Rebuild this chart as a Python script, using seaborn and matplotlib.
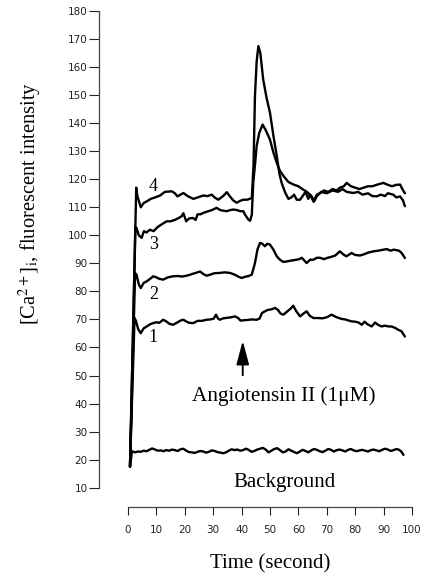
import matplotlib
matplotlib.use("Agg")
import matplotlib.pyplot as plt
import seaborn as sns
import pandas as pd

# ---------------- data ----------------
t4 = [0.7, 2.9, 3.3, 4.5, 5.5, 6.6, 8, 9.5, 11.3, 13, 15.4, 16.5, 17.4, 18.5, 19.5, 21, 23, 24.5,
      26.5, 28, 29.5, 30.5, 31.8, 33.5, 34.8, 35.8, 37, 38.3, 39.5, 40.6, 42, 43.6, 44.2, 44.7, 45.3,
      45.9, 46.6, 47.6, 48.8, 50, 51.2, 52.4, 53.3, 54.1, 55.4, 56.5, 57.5, 58.5, 59.4, 60.6, 61.5,
      62.5, 63.5, 64.1, 65.3, 66.5, 67.6, 69, 70.5, 72, 73.5, 74.6, 76, 77, 78.5, 80, 81.5, 83, 84.5,
      86, 87.5, 89.9, 91.5, 93, 94.4, 95.8, 96.6, 97.5]
y4 = [17.5, 117, 114, 110, 111.5, 112.1, 113, 113.5, 114.2, 115.5, 115.7, 115, 113.9, 114.5, 115.1,
      114, 113, 113.5, 114.2, 114, 114.5, 113.5, 112.7, 114, 115.4, 114, 112.5, 111.6, 112.3, 112.7,
      112.7, 113.3, 125, 149.6, 162, 167.5, 165, 155.6, 149, 143.7, 135.5, 128.2, 122, 118.7, 115.1,
      113, 113.5, 114.5, 112.7, 112.7, 114, 115.5, 113, 114.5, 112.1, 114.5, 115, 116, 115.5, 116.5,
      116, 117, 117.5, 118.7, 117.5, 117, 116.5, 117, 117.5, 117.5, 118, 118.7, 118, 117.5, 118,
      118.1, 116.5, 115]

t3 = [0.7, 2.6, 3.0, 3.8, 4.8, 5.6, 6.5, 7.7, 9, 10.5, 12, 13.6, 15, 16.5, 17.5, 18.9, 19.5, 20.5,
      21.5, 22.8, 23.8, 24.5, 25.5, 26.5, 28, 29.5, 31.2, 32.5, 33.5, 34.7, 36, 37, 38.5, 39.4, 40.6,
      41.2, 42.4, 43.0, 43.6, 44.1, 44.7, 45.3, 46.2, 47.4, 48.5, 50, 51.2, 52.4, 53.5, 54.8, 56.5,
      58.3, 60, 61.7, 63, 64.7, 65.5, 66.5, 68, 70, 72, 74, 75.5, 77, 79.3, 81, 82.6, 84.5, 86, 87.6,
      89, 90.5, 91.5, 93.4, 94.5, 95.8, 96.8, 97.5]
y3 = [17.5, 103, 102.6, 100, 99.1, 101.5, 101, 102, 101.5, 103, 104, 105, 105, 105.5, 106, 106.8,
      107.9, 105, 106, 106.2, 105.5, 107.5, 107.5, 108, 108.5, 109, 109.8, 109, 108.8, 108.6, 109,
      109.2, 109, 108.6, 108.6, 107.4, 105.6, 105.2, 107.4, 118.7, 125, 131.8, 136.5, 139.5, 137.5,
      134.1, 129.5, 125.8, 123, 121.1, 119, 118.1, 117.5, 116.3, 115.5, 113.9, 112, 114, 115.5, 115,
      116, 115.5, 116.5, 115.5, 115.1, 115.5, 114.5, 115, 114, 113.9, 114.5, 114, 115, 114.5, 113.5,
      113.9, 112.5, 110.4]

t2 = [0.7, 2.5, 3.0, 3.8, 4.5, 5.5, 6.6, 7.8, 8.9, 10, 11, 12.4, 14, 15.9, 17.5, 19, 20.6, 22, 23.5,
      25.4, 26.5, 27.7, 29, 30.5, 32.4, 34, 35.9, 37.5, 38.8, 40, 41.2, 42.5, 43.6, 44.7, 45.6, 46.5,
      47.3, 48.2, 49, 50, 51.2, 52.4, 53.5, 54.7, 55.9, 57.5, 59.4, 60.3, 61.2, 62.1, 62.9, 64.1, 65.3,
      66.5, 67.6, 69, 70, 71.5, 73, 74.6, 75.8, 76.9, 78.7, 80, 81.7, 83, 84.5, 86.4, 88, 89.5, 91.1,
      92.5, 93.5, 94.6, 95.5, 96.5, 97.5]
y2 = [17.5, 86.5, 86, 82.5, 81.2, 83, 83.6, 84.5, 85.4, 85, 84.5, 84.2, 85, 85.4, 85.5, 85.3, 85.6,
      86, 86.5, 87.1, 86.2, 85.6, 86, 86.5, 86.6, 86.8, 86.6, 86, 85.3, 84.8, 85.2, 85.5, 86, 90.1, 95,
      97.3, 97, 96.1, 97, 96.7, 94.9, 92.5, 91.3, 90.5, 90.7, 91, 91.3, 91.5, 92, 91, 90.1, 91.3, 91.3,
      92, 92, 91.5, 91.9, 92.3, 92.8, 94.3, 93.2, 92.5, 93.7, 93, 92.8, 93.2, 93.8, 94.3, 94.5, 94.8,
      95.1, 94.5, 94.9, 94.7, 94.5, 93.5, 91.9]

t1 = [0.7, 2.3, 2.8, 3.6, 4.5, 5.5, 6.6, 7.8, 8.9, 10, 11, 12.4, 13.5, 14.5, 15.9, 17.5, 18.5, 19.5,
      20.5, 21.5, 23, 24.5, 26, 27.7, 29, 30.2, 31, 31.7, 32.4, 33.5, 35, 36.5, 37.7, 38.8, 39.6, 40.6,
      42, 43.5, 45.3, 46.3, 47.2, 48.2, 49.2, 50.5, 51.8, 52.8, 53.7, 54.7, 56, 57.2, 58.2, 59.2, 60.6,
      61.8, 62.9, 64, 65.3, 67, 68.5, 70, 71.7, 73, 74, 75.2, 76.5, 77.7, 78.8, 80, 81.2, 82.3, 83.3,
      84.3, 85.8, 87, 88, 89.3, 90.5, 91.7, 92.8, 94, 95.2, 96.3, 97.5]
y1 = [17.5, 70.5, 69.5, 66.5, 65.1, 66.8, 67.5, 68.3, 68.7, 69, 68.8, 69.9, 69.3, 68.5, 68.1, 69,
      69.6, 69.9, 69.3, 68.8, 68.7, 69.5, 69.5, 69.9, 70, 70.3, 71.7, 70.3, 69.9, 70.4, 70.6, 70.8,
      71.1, 70.5, 69.6, 69.7, 69.8, 70, 69.9, 70.3, 72.3, 72.9, 73.4, 73.6, 74.1, 73.4, 72.1, 71.7,
      72.8, 73.8, 74.9, 73, 71.1, 72.1, 72.9, 71.3, 70.5, 70.5, 70.4, 70.8, 71.7, 71, 70.6, 70.2, 70,
      69.6, 69.3, 69.2, 68.9, 68.1, 69.2, 68.3, 67.5, 68.9, 68.1, 67.5, 67.8, 67.5, 67.5, 67, 66.3,
      65.8, 63.9]

tb = [0.7, 1.4, 2.5, 3.5, 4.5, 5.5, 6.5, 7.5, 8.5, 9.5, 10.5, 11.5, 12.5, 13.5, 14.5, 15.5, 16.5,
      17.5, 18.5, 19.5, 20.5, 21.5, 22.5, 23.5, 24.5, 25.5, 26.5, 27.5, 28.5, 29.5, 30.5, 31.5, 32.5,
      33.5, 34.5, 35.5, 36.5, 37.5, 38.5, 39.5, 40.5, 41.5, 42.5, 43.5, 44.5, 45.5, 46.5, 47.5, 48.5,
      49.5, 50.5, 51.5, 52.5, 53.5, 54.5, 55.5, 56.5, 57.5, 58.5, 59.5, 60.5, 61.5, 62.5, 63.5, 64.5,
      65.5, 66.5, 67.5, 68.5, 69.5, 70.5, 71.5, 72.5, 73.5, 74.5, 75.5, 76.5, 77.5, 78.5, 79.5, 80.5,
      81.5, 82.5, 83.5, 84.5, 85.5, 86.5, 87.5, 88.5, 89.5, 90.5, 91.5, 92.5, 93.5, 94.5, 95.5, 96.3, 97]
yb = [17.5, 23, 22.6, 22.9, 22.8, 23.2, 23, 23.5, 24, 23.6, 23.2, 23.3, 23, 23.4, 23.2, 23.6, 23.4,
      23.1, 23.7, 23.9, 23.2, 22.7, 22.6, 22.4, 22.8, 23.1, 22.9, 22.5, 22.8, 23.3, 23.1, 22.7, 22.5,
      22.3, 22.6, 23.2, 23.7, 23.4, 23.6, 23.2, 23.4, 23.9, 23.5, 22.8, 23.1, 23.6, 23.9, 24.2, 23.6,
      22.6, 23.2, 23.8, 24.1, 23.4, 22.6, 22.9, 23.7, 23.2, 22.7, 22.3, 22.9, 23.5, 23.1, 22.6, 23.3,
      23.8, 23.5, 23, 22.7, 23.2, 23.8, 23.5, 22.9, 23.4, 23.6, 23.3, 22.9, 23.5, 23.8, 23.3, 23.0,
      23.3, 23.5, 23.2, 22.9, 23.4, 23.6, 23.3, 23, 23.5, 23.9, 23.6, 23.1, 23.4, 23.8, 23.5, 22.8, 21.7]

x_ticks = list(range(0, 101, 10))
y_ticks = list(range(10, 181, 10))
curve_labels = ["1", "2", "3", "4"]
label_y = [63.4, 78.8, 96.7, 117.5]

# ---------------- plot ----------------
sns.set_theme(style="ticks")
plt.rcParams["mathtext.fontset"] = "stix"

fig = plt.figure(figsize=(4.22, 5.76), dpi=100)
ax = fig.add_axes([128 / 422, 1 - 487.7 / 576, 284 / 422, (487.7 - 11) / 576])

series = [(tb, yb), (t1, y1), (t2, y2), (t3, y3), (t4, y4)]
for t, y in series:
    df = pd.DataFrame({"t": t, "y": y})
    sns.lineplot(data=df, x="t", y="y", ax=ax, color="black", lw=1.7,
                 estimator=None, sort=False)

ax.set_xlim(0, 100)
ax.set_ylim(10, 180)
ax.set_xticks(x_ticks)
ax.set_yticks(y_ticks)
ax.set_xticklabels([str(v) for v in x_ticks])
ax.set_yticklabels([str(v) for v in y_ticks])

for s in ["top", "right"]:
    ax.spines[s].set_visible(False)
ax.spines["left"].set_position(("outward", 21))
ax.spines["bottom"].set_position(("outward", 14))
ax.spines["left"].set_bounds(10, 180)
ax.spines["bottom"].set_bounds(0, 100)
for s in ["left", "bottom"]:
    ax.spines[s].set_color("#444444")
    ax.spines[s].set_linewidth(0.9)

ax.tick_params(axis="both", which="major", direction="out", colors="#222222",
               labelsize=7.5, width=0.8, bottom=True, left=True, top=False, right=False)
ax.tick_params(axis="y", length=7, pad=1)
ax.tick_params(axis="x", length=6, pad=7)
ax.grid(False)

serif = ["Liberation Serif", "DejaVu Serif"]
ax.set_xlabel("Time (second)", family=serif, fontsize=15, labelpad=14, color="black")
ax.set_ylabel(r"[Ca$^{2+}$]$_{\mathrm{i}}$, fluorescent intensity", family=serif,
              fontsize=14.8, color="black")
ax.yaxis.set_label_coords(-0.30, 0.597)

for lab, ly in zip(curve_labels, label_y):
    ax.text(8.9, ly, lab, family=serif, fontsize=13, ha="center", va="center", color="black")

ax.annotate("", xy=(40.4, 63.4), xytext=(40.4, 49.1),
            arrowprops=dict(arrowstyle="-|>,head_width=0.32,head_length=1.2", color="black", lw=1.4))
ax.text(55, 42.5, "Angiotensin II (1\u03bcM)", family=serif, fontsize=15.3, ha="center",
        va="center", color="black")
ax.text(55, 11.8, "Background", family=serif, fontsize=15, ha="center", va="center", color="black")

fig.savefig("out.png", dpi=100, facecolor="white")
